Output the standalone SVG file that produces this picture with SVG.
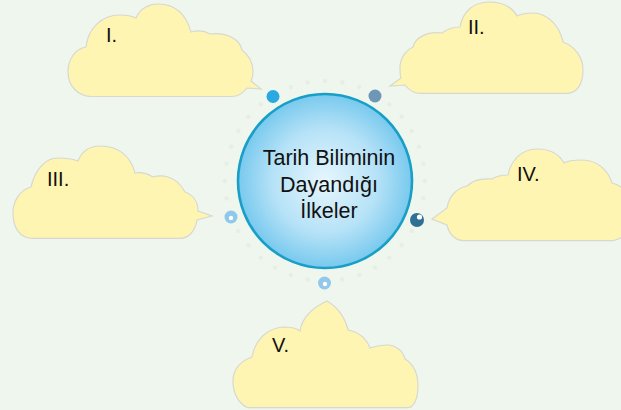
<svg xmlns="http://www.w3.org/2000/svg" width="621" height="410" viewBox="0 0 621 410">
<style>
.cloud{fill:#fff5b2;stroke:#d8d8cf;stroke-width:1.2}
.lbl{font-family:"Liberation Sans",Arial,sans-serif;font-size:20px;fill:#111}
.ctr{font-family:"Liberation Sans",Arial,sans-serif;font-size:21.5px;fill:#111;text-anchor:middle}
.faint{fill:#e6eee6}
</style>
<defs>
<radialGradient id="cg" cx="0.5" cy="0.5" r="0.5">
<stop offset="0" stop-color="#e6f6fd"/>
<stop offset="0.6" stop-color="#b6e2f7"/>
<stop offset="1" stop-color="#78c9ee"/>
</radialGradient>
</defs>
<rect width="621" height="410" fill="#eef6ed"/>
<g id="connectors">
<g class="faint">
<circle cx="425" cy="181" r="2.2"/><circle cx="423.5" cy="198.4" r="2.2"/><circle cx="411.6" cy="231" r="2.2"/><circle cx="401.6" cy="245.3" r="2.2"/><circle cx="389.3" cy="257.6" r="2.2"/><circle cx="375" cy="267.6" r="2.2"/><circle cx="359.2" cy="275" r="2.2"/><circle cx="342.4" cy="279.5" r="2.2"/><circle cx="307.6" cy="279.5" r="2.2"/><circle cx="290.8" cy="275" r="2.2"/><circle cx="275" cy="267.6" r="2.2"/><circle cx="260.7" cy="257.6" r="2.2"/><circle cx="248.4" cy="245.3" r="2.2"/><circle cx="238.4" cy="231" r="2.2"/><circle cx="226.5" cy="198.4" r="2.2"/><circle cx="225" cy="181" r="2.2"/><circle cx="226.5" cy="163.6" r="2.2"/><circle cx="231" cy="146.8" r="2.2"/><circle cx="238.4" cy="131" r="2.2"/><circle cx="248.4" cy="116.7" r="2.2"/><circle cx="260.7" cy="104.4" r="2.2"/><circle cx="290.8" cy="87" r="2.2"/><circle cx="307.6" cy="82.5" r="2.2"/><circle cx="325" cy="81" r="2.2"/><circle cx="342.4" cy="82.5" r="2.2"/><circle cx="359.2" cy="87" r="2.2"/><circle cx="389.3" cy="104.4" r="2.2"/><circle cx="401.6" cy="116.7" r="2.2"/><circle cx="411.6" cy="131" r="2.2"/><circle cx="419" cy="146.8" r="2.2"/><circle cx="423.5" cy="163.6" r="2.2"/>
</g>
<circle cx="273" cy="96.5" r="6.5" fill="#28a9e1"/>
<circle cx="375" cy="96" r="6.5" fill="#6e97b7"/>
<circle cx="231" cy="217" r="6.5" fill="#8fc8ec"/><circle cx="231" cy="218" r="2.2" fill="#fff"/>
<circle cx="417" cy="220" r="7" fill="#2e6f95"/><circle cx="419.5" cy="217" r="2.6" fill="#fff"/>
<circle cx="324.5" cy="283" r="6.5" fill="#93c8ea"/><circle cx="325" cy="284" r="2.2" fill="#fff"/>
</g>
<g id="center">
<circle cx="325" cy="181" r="87" fill="url(#cg)" stroke="#199fc7" stroke-width="2.6"/>
<text class="ctr" x="329" y="165">Tarih Biliminin</text>
<text class="ctr" x="329" y="191.5">Dayandığı</text>
<text class="ctr" x="329" y="218">İlkeler</text>
</g>
<g id="cloud1">
<path class="cloud" d="M92,96.5 C78,96.5 68,86 68,72 C68,58 76,49 86,47 C88,28 102,15 120,15 C127,15 132,16 136,18 C140,8 150,4 158,4 C175,4 186,14 191,32 C198,30 205,31 210,34 C228,32 240,40 242,50 C250,56 253,64 253,72 C253,76 252,79 251,81 L261,89 L247,88 C243,93 239,96.5 232,96.5 Z"/>
<text class="lbl" x="106" y="42">I.</text>
</g>
<g id="cloud2">
<path class="cloud" d="M420,93.3 L567,93.3 C577,93 583,84 583,70 C583,58 576,47 563,42 C560,27 548,13 533,13 C527,13 521,14 517,16 C512,7 502,2 489,2 C474,2 463,11 460,27 C452,27 446,30 442,33 C427,31 415,38 413,47 C405,51 400,59 400,68 C400,72 400,75 401,78 L390,86 L405,85 C409,90 414,93.3 420,93.3 Z"/>
<text class="lbl" x="468" y="34">II.</text>
</g>
<g id="cloud3">
<path class="cloud" d="M32,238.3 C20,238 13,228 13,213 C13,201 20,190 31,187 C35,170 45,158 58,158 C66,158 73,159 78,161 C82,151 90,146 100,146 C118,146 130,155 135,173 C141,172 148,174 153,177 C160,175 175,174 185,192 C193,195 198,202 198,211 L212,216 L197,220 C195,231 189,238.3 180,238.3 Z"/>
<text class="lbl" x="47" y="186">III.</text>
</g>
<g id="cloud4">
<path class="cloud" d="M463,240.7 C455,240 449,234 447,225 L432,219 L447,208 C449,196 457,188 467,186 C472,181 480,178 492,179 C497,176 502,175 508,175 C511,160 522,149 537,149 C549,149 559,154 564,163 C569,160 575,160 582,160 C597,160 608,170 612,183 C624,186 632,196 632,210 C632,228 624,240.7 610,240.7 Z"/>
<text class="lbl" x="517" y="181">IV.</text>
</g>
<g id="cloud5">
<path class="cloud" d="M248,407.7 C239,404 233,394 233,381 C233,370 240,361 252,357 C255,340 267,328 284,327 C291,327 296,328 300,331 C302,318 312,308 327,301 C339,308 345,318 348,330 C359,332 366,338 370,348 C376,346 381,345 387,345 C396,345 403,351 405,359 C413,364 418,373 418,386 C418,398 414,407.7 408,407.7 Z"/>
<text class="lbl" x="272" y="352">V.</text>
</g>
</svg>
